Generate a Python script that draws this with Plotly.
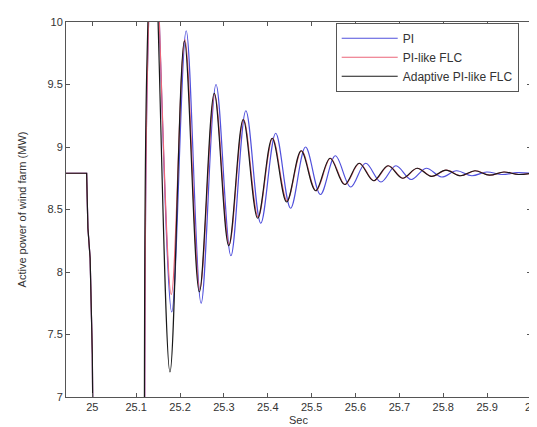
import plotly.graph_objects as go

# Active power of wind farm after the fault: PI vs PI-like FLC vs adaptive PI-like FLC

# before the disturbance (same for the three controllers)
t_pre = [24.94, 24.987, 24.990, 24.995, 25.000, 25.003]
p_pre = [8.79, 8.79, 8.35, 8.11, 7.34, 6.0]

# PI
t_pi = [25.119, 25.125, 25.140, 25.181, 25.214, 25.248, 25.282, 25.316, 25.350,
        25.384, 25.418, 25.452, 25.486, 25.520, 25.554, 25.589, 25.623, 25.658,
        25.692, 25.727, 25.761, 25.796, 25.830, 25.865, 25.899, 25.934, 25.968, 26.0]
p_pi = [5.0, 9.5, 10.9, 7.68, 9.93, 7.75, 9.50, 8.13, 9.29,
        8.39, 9.11, 8.51, 9.00, 8.62, 8.93, 8.68, 8.87, 8.72,
        8.85, 8.74, 8.83, 8.76, 8.81, 8.77, 8.80, 8.78, 8.795, 8.79]

# PI-like FLC
t_flc = [25.119, 25.125, 25.140, 25.180, 25.211, 25.245, 25.279, 25.312, 25.345,
         25.378, 25.411, 25.444, 25.477, 25.510, 25.543, 25.576, 25.609, 25.642,
         25.675, 25.708, 25.741, 25.774, 25.807, 25.840, 25.873, 25.906, 25.939,
         25.972, 26.0]
p_flc = [5.0, 9.5, 10.9, 7.82, 9.86, 7.86, 9.42, 8.22, 9.22,
         8.44, 9.07, 8.57, 8.97, 8.65, 8.91, 8.70, 8.87, 8.73,
         8.85, 8.75, 8.83, 8.765, 8.815, 8.77, 8.81, 8.775, 8.80,
         8.78, 8.79]

# Adaptive PI-like FLC
t_ad = [25.119, 25.124, 25.139, 25.177, 25.210, 25.244, 25.278, 25.311, 25.344,
        25.377, 25.410, 25.443, 25.476, 25.509, 25.542, 25.575, 25.608, 25.641,
        25.674, 25.707, 25.740, 25.773, 25.806, 25.839, 25.872, 25.905, 25.938,
        25.971, 26.0]
p_ad = [5.0, 9.6, 10.9, 7.20, 9.85, 7.84, 9.43, 8.21, 9.22,
        8.43, 9.07, 8.56, 8.97, 8.65, 8.91, 8.70, 8.87, 8.73,
        8.85, 8.75, 8.83, 8.765, 8.815, 8.77, 8.81, 8.775, 8.80,
        8.78, 8.79]

names = ['PI', 'PI-like FLC', 'Adaptive PI-like FLC']
colors = ['rgb(80,80,220)', 'rgb(235,100,120)', 'rgb(25,25,25)']
series = [(t_pi, p_pi), (t_flc, p_flc), (t_ad, p_ad)]

fig = go.Figure()
for name, col, (tt, pp) in zip(names, colors, series):
    fig.add_trace(go.Scatter(x=t_pre, y=p_pre, mode='lines', name=name, legendgroup=name,
                             line=dict(color=col, width=1.2)))
    fig.add_trace(go.Scatter(x=tt, y=pp, mode='lines', name=name, legendgroup=name,
                             showlegend=False,
                             line=dict(color=col, width=1.2, shape='spline', smoothing=1)))

font = dict(family='Liberation Sans', size=11, color='#333')
axis_style = dict(showline=True, linecolor='#555', linewidth=1, mirror='ticks',
                  ticks='inside', ticklen=4, tickcolor='#555', showgrid=False,
                  zeroline=False, tickfont=font, ticklabeloverflow='allow')

fig.update_xaxes(range=[24.94, 26.0], tickvals=[25, 25.1, 25.2, 25.3, 25.4, 25.5, 25.6, 25.7, 25.8, 25.9, 26],
                 ticktext=['25', '25.1', '25.2', '25.3', '25.4', '25.5', '25.6', '25.7', '25.8', '25.9', '26'],
                 title=dict(text='Sec', font=font, standoff=4),
                 **axis_style)
fig.update_yaxes(range=[7, 10], tickvals=[7, 7.5, 8, 8.5, 9, 9.5, 10],
                 ticktext=['7', '7.5', '8', '8.5', '9', '9.5', '10'],
                 title=dict(text='Active power of wind farm (MW)', font=font, standoff=18),
                 **axis_style)

fig.update_layout(
    width=537, height=427,
    margin=dict(l=58, r=8, t=14, b=38),
    plot_bgcolor='white', paper_bgcolor='white',
    showlegend=True,
    legend=dict(x=0.58, y=0.998, xanchor='left', yanchor='top',
                bgcolor='white', bordercolor='#555', borderwidth=1,
                font=dict(family='Liberation Sans', size=12, color='#333'),
                itemwidth=56, tracegroupgap=0),
)

fig.write_html("out.html")
